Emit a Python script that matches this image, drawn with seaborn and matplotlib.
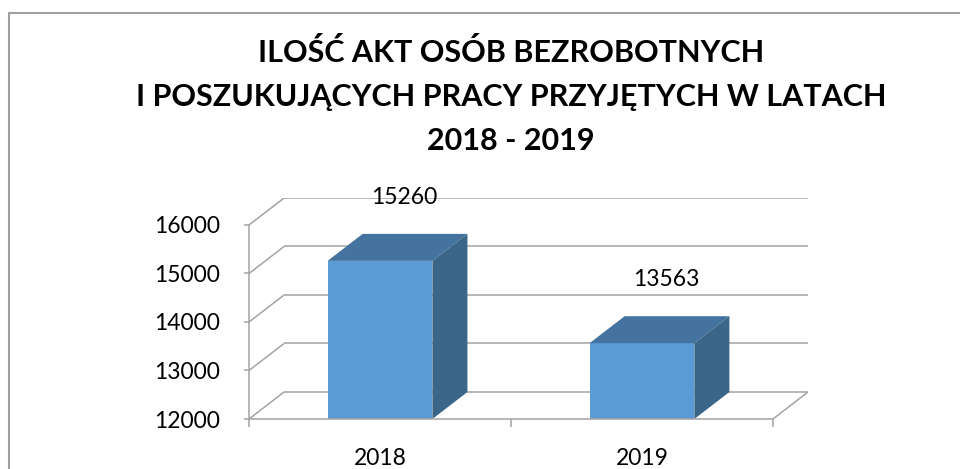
import matplotlib
matplotlib.use("Agg")
import matplotlib.pyplot as plt
import seaborn as sns
from matplotlib.patches import Polygon
from matplotlib.lines import Line2D

# ---- data ----
years = ["2018", "2019"]
values = [15260, 13563]
y_ticks = [12000, 13000, 14000, 15000, 16000]
title_lines = ["ILOŚĆ AKT OSÓB BEZROBOTNYCH",
               "I POSZUKUJĄCYCH PRACY PRZYJĘTYCH W LATACH",
               "2018 - 2019"]

# ---- style ----
sns.set_theme(style="white")
plt.rcParams['font.family'] = ['Lato', 'DejaVu Sans']

FRONT = "#5B9BD5"
TOP = "#44739F"
SIDE = "#3B6688"
GRID = "#A3A3A3"
LW = 1.1

W, H = 960, 469
fig = plt.figure(figsize=(W / 100, H / 100), dpi=100)

# axes placement (pixels) : front plane 249..772, depth to 808 ; 12000 at 419, top 198
ax = fig.add_axes([249 / W, (H - 419) / H, (808 - 249) / W, (419 - 198) / H])

n = len(years)
ymin, ymax = y_ticks[0], y_ticks[-1]
x0, x1 = -0.5, n - 0.5
px_per_x = (772 - 249) / (x1 - x0)
px_per_y = (419 - 225) / (ymax - ymin)
dx = 35 / px_per_x       # depth offset in data units
dy = 27 / px_per_y
bw = 0.4

# front faces
sns.barplot(x=years, y=values, color=FRONT, saturation=1, width=bw,
            linewidth=0, ax=ax, zorder=3)

ax.set_xlim(x0, x1 + dx)
ax.set_ylim(ymin, ymax + dy)

# back wall gridlines + side wall diagonals
for t in y_ticks:
    ax.plot([x0, x0 + dx], [t, t + dy], color=GRID, lw=LW, zorder=1,
            solid_capstyle='butt')
    ax.plot([x0 + dx, x1 + dx], [t + dy, t + dy], color=GRID, lw=LW, zorder=1,
            solid_capstyle='butt')
# floor right edge
ax.plot([x1, x1 + dx], [ymin, ymin + dy], color=GRID, lw=LW, zorder=1)

# top and side faces of bars
for i, v in enumerate(values):
    l, r = i - bw / 2, i + bw / 2
    top = Polygon([(l, v), (r, v), (r + dx, v + dy), (l + dx, v + dy)],
                  closed=True, facecolor=TOP, edgecolor='none', zorder=3)
    side = Polygon([(r, ymin), (r, v), (r + dx, v + dy), (r + dx, ymin + dy)],
                   closed=True, facecolor=SIDE, edgecolor='none', zorder=3)
    ax.add_patch(top)
    ax.add_patch(side)
    ax.text(i + dx * 0.7, v + dy + 750, f"{v}", ha='center', va='center',
            fontsize=16.5, color='black', zorder=5, clip_on=False)

# axes styling
for s in ['top', 'right']:
    ax.spines[s].set_visible(False)
ax.spines['left'].set_bounds(ymin, ymax)
ax.spines['bottom'].set_bounds(x0, x1)
for s in ['left', 'bottom']:
    ax.spines[s].set_color(GRID)
    ax.spines[s].set_linewidth(LW)
    ax.spines[s].set_zorder(4)

ax.set_yticks(y_ticks)
ax.set_yticklabels([str(t) for t in y_ticks])
ax.tick_params(axis='y', length=3.6, width=LW, color=GRID, pad=17,
               labelsize=16.5, labelcolor='black', left=True)
ax.set_xticks(range(n))
ax.set_xticklabels(years)
ax.set_xticks([x0 + k for k in range(n + 1)], minor=True)
ax.tick_params(axis='x', which='major', length=0, pad=21, labelsize=16.5,
               labelcolor='black')
ax.tick_params(axis='x', which='minor', length=5.8, width=LW, color=GRID,
               bottom=True)
ax.set_xlabel("")
ax.set_ylabel("")
ax.grid(False)

# title
for k, (line, yc) in enumerate(zip(title_lines, [52, 97, 141])):
    fig.text(511 / W, 1 - yc / H, line, ha='center', va='center',
             fontsize=22, fontweight='bold', color='black')

# outer chart frame (partially visible)
fig.add_artist(Line2D([9 / W, 9 / W, 1.0], [0.0, 1 - 13 / H, 1 - 13 / H],
                      transform=fig.transFigure, color="#A0A0A0", lw=1.5))

fig.savefig("out.png", dpi=100)
